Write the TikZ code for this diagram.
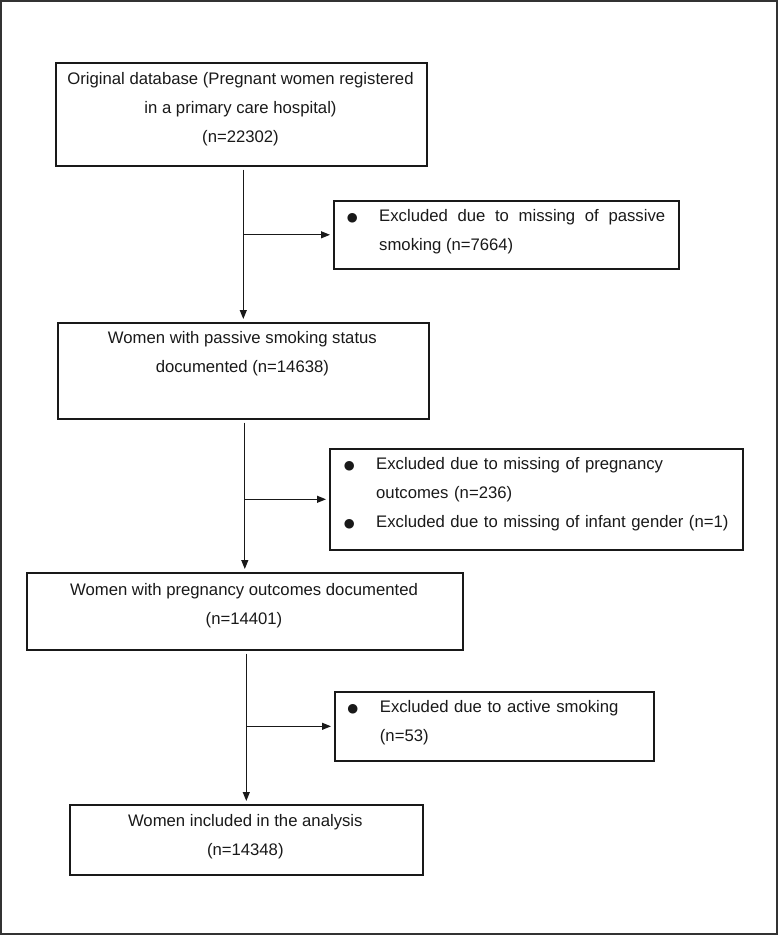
\documentclass[tikz,border=0pt]{standalone}
\usepackage{fontspec}
\setmainfont{Liberation Sans}
\newfontfamily\symfont{DejaVu Sans}
\usetikzlibrary{arrows.meta}

% one bullet item, second line hung under the text
\newcommand{\bul}[1]{\noindent\hangindent=54pt\hangafter=1%
  \makebox[54pt][c]{\symfont\fontsize{12.5}{12}\selectfont ●}#1\par}

\begin{document}
\begin{tikzpicture}[x=1pt,y=-1pt,
  box/.style={draw=black!90,line width=1.6pt,inner sep=0pt,anchor=north west},
  txt/.style={inner sep=0pt,text=black!90,align=center,
              font={\fontsize{16.7}{29}\selectfont}},
  bultxt/.style={txt,anchor=west,align=left,text width=420pt},
  arr/.style={draw=black!90,line width=1.1pt,-{Triangle[length=9pt,width=7pt]},
              shorten >=3pt}]
  \useasboundingbox (0,0) rectangle (779,936);
  \draw[line width=1.2pt,black!80] (1,1) rectangle (777,934);

   %%%%%%%%%%%%%%%%% boxes %%%%%%%%%%%%%%%%%%%
   % name NW corner, width x height (pixels of the flow chart)
\node[box,minimum width=371pt,minimum height=103pt] (orig)  at (55,62)   {};
\node[box,minimum width=345pt,minimum height=68pt]  (excl1) at (333,200) {};
\node[box,minimum width=371pt,minimum height=96pt]  (pass)  at (57,322)  {};
\node[box,minimum width=413pt,minimum height=101pt] (excl2) at (329,448) {};
\node[box,minimum width=436pt,minimum height=77pt]  (outc)  at (26,572)  {};
\node[box,minimum width=319pt,minimum height=69pt]  (excl3) at (334,691) {};
\node[box,minimum width=353pt,minimum height=70pt]  (incl)  at (69,804)  {};

   %%%%%%%%%%%%%%%%% texts %%%%%%%%%%%%%%%%%%%
\node[txt] (origtxt) at (240.5,109.5)
  {Original database (Pregnant women registered\\in a primary care hospital)\\(n=22302)};
\node[txt] (passtxt) at (242.4,354)
  {Women with passive smoking status\\documented (n=14638)};
\node[txt] (outctxt) at (244,605.5)
  {Women with pregnancy outcomes documented\\(n=14401)};
\node[txt] (incltxt) at (245.3,837)
  {Women included in the analysis\\(n=14348)};

% bullet lists of the excluded boxes
\node[bultxt,align=justify,text width=340pt] (excl1txt) at (325,232)
  {\bul{Excluded due to missing of passive\linebreak smoking (n=7664)}};
\node[bultxt] (excl2txt) at (322,494.5)
  {\bul{Excluded due to missing of pregnancy\newline outcomes (n=236)}
   \bul{Excluded due to missing of infant gender (n=1)}};
\node[bultxt] (excl3txt) at (325.7,723)
  {\bul{Excluded due to active smoking\newline (n=53)}};

   %%%%%%%%%%%%%%%%% edges %%%%%%%%%%%%%%%%%%%
\foreach \up/\down in {orig/pass,pass/outc,outc/incl}
  {\draw[arr,shorten <=3pt] (\up.south -| \down.north) -- (\down.north);}

\foreach \up/\ex in {pass/excl1,outc/excl2,incl/excl3}
  {\draw[arr] (\ex.west -| \up.north) -- (\ex.west);}
\end{tikzpicture}
\end{document}
